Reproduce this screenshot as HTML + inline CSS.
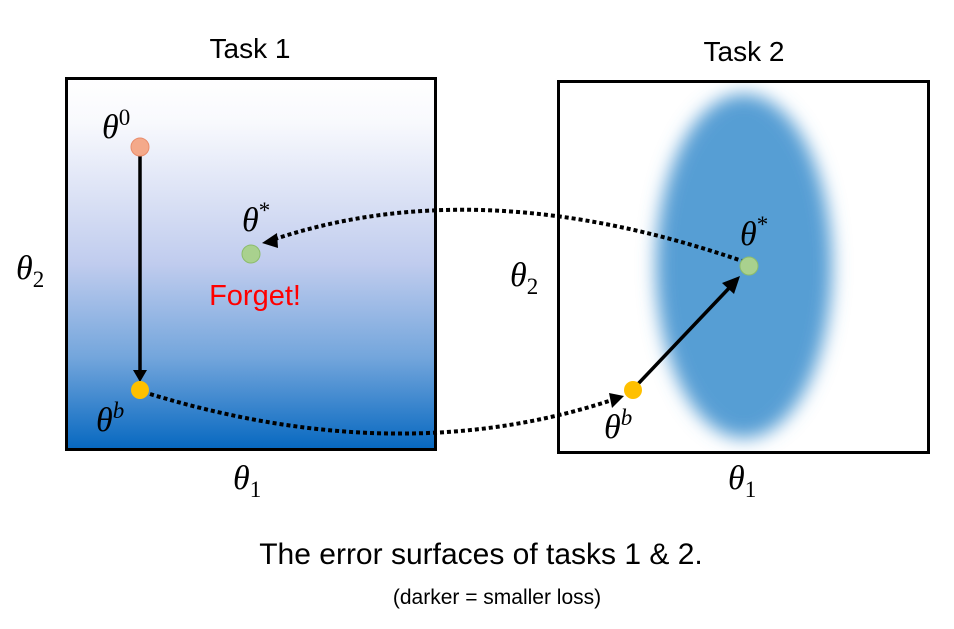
<!DOCTYPE html>
<html><head><meta charset="utf-8"><style>
body{margin:0;background:#fff;width:954px;height:624px;overflow:hidden}
</style></head><body>
<svg width="954" height="624" xmlns="http://www.w3.org/2000/svg">
<defs>
<linearGradient id="g" x1="0" y1="0" x2="0" y2="1">
<stop offset="0" stop-color="#ffffff"/>
<stop offset="0.12" stop-color="#f8f9fd"/>
<stop offset="0.5" stop-color="#c0ccee"/>
<stop offset="0.75" stop-color="#74a6dc"/>
<stop offset="1" stop-color="#0668c0"/>
</linearGradient>
<filter id="b" x="-50%" y="-50%" width="200%" height="200%"><feGaussianBlur stdDeviation="9"/></filter>
<clipPath id="c2"><rect x="559" y="83" width="369" height="368"/></clipPath>
</defs>
<rect x="66.5" y="78.5" width="369" height="371" fill="url(#g)" stroke="#000" stroke-width="3"/>
<rect x="558.5" y="81.5" width="370" height="371" fill="#fff" stroke="#000" stroke-width="3"/>
<g clip-path="url(#c2)"><ellipse cx="744" cy="266" rx="88" ry="172" fill="#579ed4" filter="url(#b)"/></g>

<line x1="140" y1="156" x2="140" y2="372" stroke="#000" stroke-width="3.5"/>
<path d="M133,370 L147,370 L140,382 Z" fill="#000"/>
<line x1="637" y1="385" x2="732" y2="285" stroke="#000" stroke-width="3.5"/>
<path d="M740,276 L734,294 L722,283 Z" fill="#000"/>

<path d="M745,262 Q480,170 272,240" fill="none" stroke="#000" stroke-width="4" stroke-dasharray="4,3"/>
<path d="M262,243 L277,233 L278,248 Z" fill="#000"/>
<path d="M150,394 Q400,470 612,400" fill="none" stroke="#000" stroke-width="4" stroke-dasharray="4,3"/>
<path d="M624,396 L609,393 L612,408 Z" fill="#000"/>

<circle cx="140" cy="147" r="9" fill="#f4a98a" stroke="#e98d6c"/>
<circle cx="140" cy="390" r="9" fill="#ffc000"/>
<circle cx="251" cy="254" r="9" fill="#a9d18e" stroke="#8cbc6c"/>
<circle cx="749" cy="266" r="9" fill="#a9d18e" stroke="#8cbc6c"/>
<circle cx="633" cy="390" r="9" fill="#ffc000"/>

<g font-family="Liberation Serif, serif" font-style="italic" font-size="34" fill="#000">
<text x="102" y="138">θ<tspan font-size="23" dy="-13" font-style="normal">0</tspan></text>
<text x="96" y="431">θ<tspan font-size="23" dy="-13">b</tspan></text>
<text x="242" y="231">θ<tspan font-size="23" dy="-13" font-style="normal">*</tspan></text>
<text x="740" y="245">θ<tspan font-size="23" dy="-13" font-style="normal">*</tspan></text>
<text x="604" y="438">θ<tspan font-size="23" dy="-13">b</tspan></text>
<text x="16" y="279">θ<tspan font-size="23" dy="8" font-style="normal">2</tspan></text>
<text x="510" y="286">θ<tspan font-size="23" dy="8" font-style="normal">2</tspan></text>
<text x="233" y="489">θ<tspan font-size="23" dy="8" font-style="normal">1</tspan></text>
<text x="728" y="489">θ<tspan font-size="23" dy="8" font-style="normal">1</tspan></text>
</g>
<g font-family="Liberation Sans, sans-serif" fill="#000">
<text x="250" y="58" font-size="28" text-anchor="middle">Task 1</text>
<text x="744" y="61" font-size="28" text-anchor="middle">Task 2</text>
<text x="255" y="305" font-size="29" text-anchor="middle" fill="#ff0000">Forget!</text>
<text x="481" y="564" font-size="30" text-anchor="middle">The error surfaces of tasks 1 &amp; 2.</text>
<text x="497" y="604" font-size="21" text-anchor="middle">(darker = smaller loss)</text>
</g>
</svg>
</body></html>
